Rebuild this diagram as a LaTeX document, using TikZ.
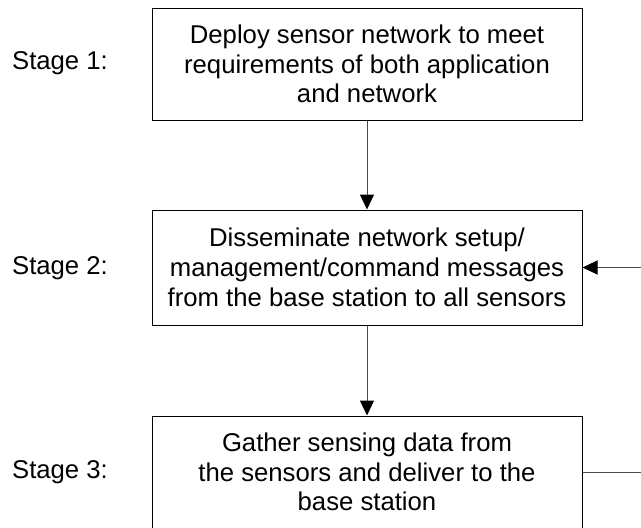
\documentclass[tikz,border=0pt]{standalone}
\usepackage{fontspec}
\setmainfont{Liberation Sans}
\usetikzlibrary{arrows.meta}
\begin{document}
\begin{tikzpicture}[x=1pt,y=-1pt,
  txt/.style={font=\fontsize{25.7pt}{29.8pt}\selectfont},
  stagebox/.style={txt, draw=black, line width=1pt, minimum width=430pt, inner sep=0pt,
    align=center},
  flow/.style={draw=black!70, line width=1pt,
    -{Triangle[length=15pt,width=14pt,color=black,fill=black]}}]
  \useasboundingbox (0,0) rectangle (641,528);
  \clip (0,0) rectangle (641,528);
  % the three stage boxes
  \node[stagebox, minimum height=112pt] (b1) at (367,64)
    {Deploy sensor network to meet\\requirements of both application\\and network};
  \node[stagebox, minimum height=115pt] (b2) at (367,267.5)
    {Disseminate network setup/\\management/command messages\\from the base station to all sensors};
  \node[stagebox, minimum height=112pt] (b3) at (367,472)
    {Gather sensing data from\\the sensors and deliver to the\\base station};
  % stage labels
  \node[txt] (l1) at (60,63.5) {Stage 1:};
  \node[txt] (l2) at (60,268) {Stage 2:};
  \node[txt] (l3) at (60,472) {Stage 3:};
  % flow between stages
  \draw[flow] (b1.south) -- (b2.north);
  \draw[flow] (b2.south) -- (b3.north);
  % feedback loop from stage 3 back to stage 2
  \coordinate (loop) at (660,0);
  \draw[flow] (b3.east) -- (b3.east -| loop) |- (b2.east);
\end{tikzpicture}
\end{document}
